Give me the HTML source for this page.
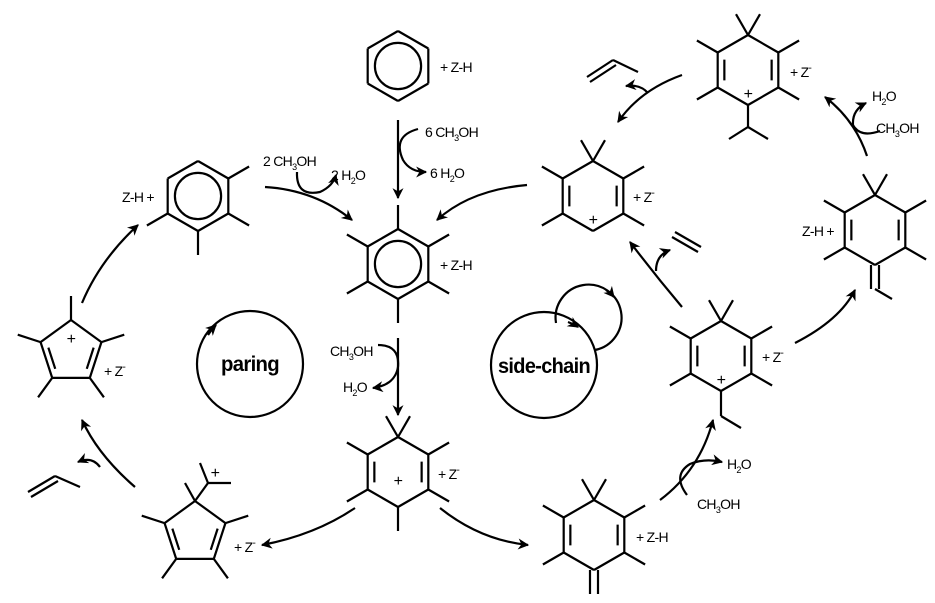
<!DOCTYPE html>
<html><head><meta charset="utf-8"><style>
html,body{margin:0;padding:0;background:#fff;width:935px;height:603px;overflow:hidden}
svg text{font-family:"Liberation Sans",Arial,sans-serif;fill:#000;letter-spacing:-0.7px}
</style></head><body>
<svg id="s" width="935" height="603" viewBox="0 0 935 603" xmlns="http://www.w3.org/2000/svg">
<defs>
<marker id="ah2" viewBox="0 0 10 10" refX="9" refY="5" markerWidth="13" markerHeight="11" orient="auto" markerUnits="userSpaceOnUse">
<path d="M0,0 L10,5 L0,10 L3,5 Z" fill="#000"/></marker>
</defs>
<g id="g" stroke="#000" stroke-width="2.2" fill="none" stroke-linecap="butt"></g>
<g id="t" font-size="14"></g>
</svg>
<script>
var g=document.getElementById('g'),t=document.getElementById('t'),NS='http://www.w3.org/2000/svg';
function L(x1,y1,x2,y2){var e=document.createElementNS(NS,'line');e.setAttribute('x1',x1);e.setAttribute('y1',y1);e.setAttribute('x2',x2);e.setAttribute('y2',y2);g.appendChild(e);}
function P(d,m){var e=document.createElementNS(NS,'path');e.setAttribute('d',d);if(m)e.setAttribute('marker-end','url(#'+m+')');g.appendChild(e);}
function C(x,y,r){var e=document.createElementNS(NS,'circle');e.setAttribute('cx',x);e.setAttribute('cy',y);e.setAttribute('r',r);g.appendChild(e);}
function T(x,y,s,sz,b,anchor,tl){var e=document.createElementNS(NS,'text');e.setAttribute('x',x);e.setAttribute('y',y);if(sz)e.setAttribute('font-size',sz);if(b)e.setAttribute('font-weight','bold');if(anchor)e.setAttribute('text-anchor',anchor);if(tl){e.setAttribute('textLength',tl);e.setAttribute('lengthAdjust','spacingAndGlyphs');}e.innerHTML=s;t.appendChild(e);}
var D=Math.PI/180;
function ring(cx,cy,R,n,a0,opts){
 var v=[];for(var i=0;i<n;i++){var a=(a0+360/n*i)*D;v.push([cx+R*Math.cos(a),cy+R*Math.sin(a)]);}
 for(var i=0;i<n;i++){var p=v[i],q=v[(i+1)%n];L(p[0],p[1],q[0],q[1]);}
 (opts.dbl||[]).forEach(function(i){var p=v[i],q=v[(i+1)%n];var k=0.78;
  var p2=[cx+(p[0]-cx)*k,cy+(p[1]-cy)*k],q2=[cx+(q[0]-cx)*k,cy+(q[1]-cy)*k];
  var f=0.12;L(p2[0]+(q2[0]-p2[0])*f,p2[1]+(q2[1]-p2[1])*f,q2[0]-(q2[0]-p2[0])*f,q2[1]-(q2[1]-p2[1])*f);});
 (opts.sub||[]).forEach(function(i){var p=v[i];var a=(a0+360/n*i)*D;L(p[0],p[1],p[0]+24*Math.cos(a),p[1]+24*Math.sin(a));});
 (opts.gem||[]).forEach(function(i){var p=v[i];var a=(a0+360/n*i)*D;[-30,30].forEach(function(d){L(p[0],p[1],p[0]+24*Math.cos(a+d*D),p[1]+24*Math.sin(a+d*D));});});
 if(opts.circ)C(cx,cy,R*0.66);
 return v;
}
var Zm='+ Z<tspan dy="-6" font-size="10">-</tspan>';
function sub(a,n,b){return a+'<tspan dy="4" font-size="9">'+n+'</tspan><tspan dy="-4">'+b+'</tspan>';}
ring(398,66,35,6,-90,{circ:1});T(440,72,'+ Z-H');
ring(398,264,35,6,-90,{circ:1,sub:[0,1,2,3,4,5]});T(440,270,'+ Z-H');
ring(398,472,35,6,-90,{dbl:[1,4],sub:[1,2,3,4,5],gem:[0]});T(398,486,'+',16,0,'middle');T(438,479,Zm);
ring(594,535,35,6,-90,{dbl:[1,4],sub:[1,2,4,5],gem:[0]});L(590,570,590,594);L(598,570,598,594);T(636,542,'+ Z-H');
ring(721,356,35,6,-90,{dbl:[1,4],sub:[1,2,4,5],gem:[0]});L(721,391,721,416);L(721,416,741,428);T(721,385,'+',16,0,'middle');T(762,362,Zm);
ring(875,230,35,6,-90,{dbl:[1,4],sub:[1,2,4,5],gem:[0]});L(871,265,871,289);L(879,265,879,289);L(875,289,892,299);T(802,236,'Z-H +');
ring(748,70,35,6,-90,{dbl:[1,4],sub:[1,2,4,5],gem:[0]});L(748,105,748,127);L(748,127,729,139);L(748,127,768,139);T(748,99,'+',16,0,'middle');T(790,77,Zm);
ring(593,196,35,6,-90,{dbl:[1,4],sub:[1,2,4,5],gem:[0]});T(593,225,'+',16,0,'middle');T(633,202,Zm);
ring(198,196,35,6,-90,{circ:1,sub:[1,2,3,4]});T(122,202,'Z-H +');
ring(71,352,32,5,-90,{dbl:[1,3],sub:[0,1,2,3,4]});T(71,344,'+',16,0,'middle');T(104,376,Zm);
ring(195,533,32,5,-90,{dbl:[1,3],sub:[1,2,3,4]});L(195,501,185,483);L(195,501,208,483);L(208,483,200,463);L(208,483,231,483);T(215,478,'+',16,0,'middle');T(234,552,Zm);
L(28,492,55,476);L(31,497,58,481);L(55,476,80,487);
L(587,77,613,60);L(590,82,616,65);L(613,60,638,72);
L(672,237,698,252);L(675,232,701,247);
C(250,364,53);C(544,365,53);P('M556,323 A33,33 0 1 1 595,350');
P('M208,335 A53,53 0 0 1 216,325','ah2');
P('M568,322 A53,53 0 0 1 578,327','ah2');
P('M606,290 A33,33 0 0 1 614,297','ah2');
T(250,371,'paring',21,1,'middle',58);T(544,373,'side-chain',21,1,'middle',92);
P('M398,120 L398,198','ah2');
P('M418,129 Q392,136 403,160 Q410,172 426,172','ah2');
T(425,137,sub('6 CH','3','OH'));T(430,178,sub('6 H','2','O'));
P('M265,187 Q315,190 352,220','ah2');
P('M297,172 Q296,197 320,192 Q333,186 336,175','ah2');
T(263,166,sub('2 CH','3','OH'));T(331,180,sub('2 H','2','O'));
P('M527,185 Q470,190 437,220','ah2');
P('M398,338 L398,415','ah2');
P('M378,345 Q400,345 398,367 Q395,385 373,388','ah2');
T(330,356,sub('CH','3','OH'));T(343,392,sub('H','2','O'));
P('M355,508 Q315,535 262,545','ah2');
P('M440,508 Q480,540 528,545','ah2');
P('M660,500 Q700,470 713,420','ah2');
P('M687,495 Q672,475 690,464 Q705,458 722,462','ah2');
T(727,469,sub('H','2','O'));T(697,509,sub('CH','3','OH'));
P('M682,307 Q655,275 630,242','ah2');
P('M656,271 Q656,255 670,250','ah2');
P('M795,343 Q840,320 855,290','ah2');
P('M867,156 Q855,120 825,97','ah2');
P('M880,131 Q860,138 853,125 Q852,110 866,103','ah2');
T(872,101,sub('H','2','O'));T(876,133,sub('CH','3','OH'));
P('M682,75 Q640,90 618,122','ah2');
P('M648,93 Q640,84 626,86','ah2');
P('M135,487 Q98,455 82,420','ah2');
P('M100,467 Q92,456 78,462','ah2');
P('M82,303 Q100,260 138,225','ah2');
</script>
</body></html>
